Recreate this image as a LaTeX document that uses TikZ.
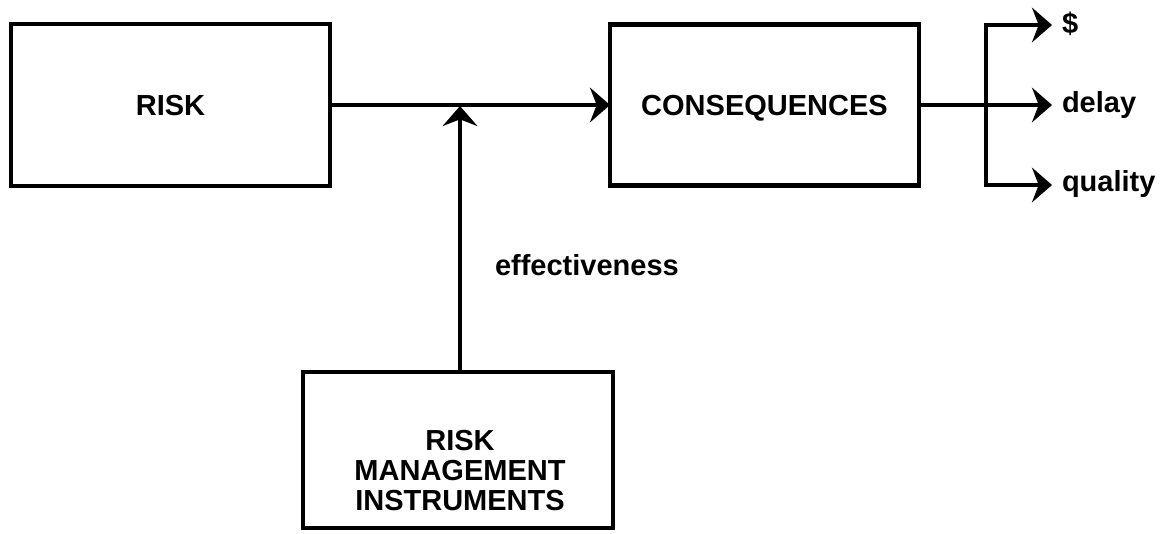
\documentclass[tikz,border=0pt]{standalone}
\usepackage{fontspec}
\setmainfont{Liberation Sans}
\usetikzlibrary{arrows.meta}
\begin{document}
\begin{tikzpicture}[x=0.75pt,y=-0.75pt,
  every node/.style={font=\fontsize{21.75}{22.5}\selectfont\bfseries, inner sep=0pt, outer sep=0pt},
  blockbox/.style={draw, line width=3.6pt, rectangle, text depth=0pt},
  tip/.style={Stealth[length=15pt,width=26pt,inset=5pt]},
  flow/.style={line width=3.2pt, -{Stealth[length=15pt,width=26pt,inset=5pt]}},
  lbl/.style={anchor=base west}]
  \useasboundingbox (0,0) rectangle (1164,533);

  % main blocks
  \node[blockbox, minimum width=239.25pt, minimum height=121.5pt] (risk) at (170.5,105) {RISK};
  \node[blockbox, minimum width=231.75pt, minimum height=120.75pt] (cons) at (764.5,105) {CONSEQUENCES};
  \node[blockbox, minimum width=232.5pt, minimum height=117pt] (rmi) at (458,450) {};
  \node[align=center] (rmitext) at (460,471) {RISK\\MANAGEMENT\\INSTRUMENTS};

  % risk flows into consequences; instruments act on that flow
  \coordinate (join) at (460,106);
  \draw[flow] (risk.east) -- (risk.east -| cons.west);
  \draw[flow] (rmi.north -| join) -- (join);
  \node[lbl] (eff) at (495,275) {effectiveness};

  % consequence branches
  \coordinate (bartop) at (986,25);
  \coordinate (barbot) at (986,185);
  \coordinate (tipd) at (1052,25);
  \coordinate (tipq) at (1052,185);
  \draw[flow] (cons.east) -- (cons.east -| tipd);
  \draw[line width=3.2pt, {Stealth[length=15pt,width=26pt,inset=5pt]}-{Stealth[length=15pt,width=26pt,inset=5pt]}]
    (tipd) -- (bartop) -- (barbot) -- (tipq);
  \node[lbl] (dollar) at (1062,33) {\$};
  \node[lbl] (delay) at (1062,112) {delay};
  \node[lbl] (quality) at (1062,191) {quality};
\end{tikzpicture}
\end{document}
